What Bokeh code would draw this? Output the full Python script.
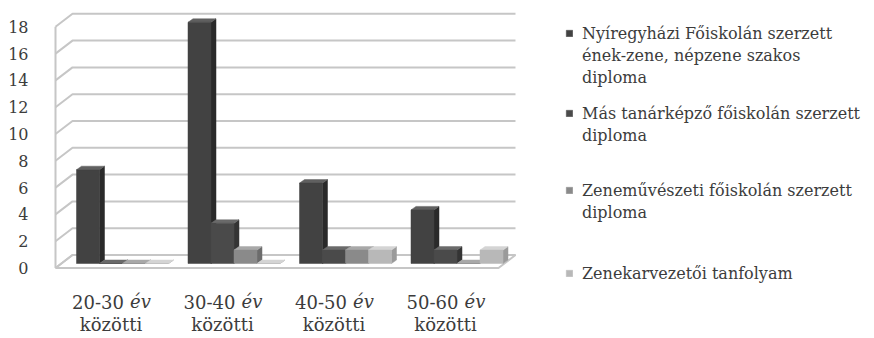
from bokeh.plotting import figure
from bokeh.models import Range1d, FixedTicker, Legend, LegendItem, ColumnDataSource
from bokeh.embed import file_html
from bokeh.resources import INLINE
from bokeh.core.properties import value

# ---------------- data ----------------
age_ranges = ["20-30", "30-40", "40-50", "50-60"]
age_word = "év"
age_suffix = "közötti"
series_labels = [
    ["Nyíregyházi Főiskolán szerzett", "ének-zene, népzene szakos", "diploma"],
    ["Más tanárképző főiskolán szerzett", "diploma"],
    ["Zeneművészeti főiskolán szerzett", "diploma"],
    ["Zenekarvezetői tanfolyam"],
]
nyiregyhaza = [7, 18, 6, 4]
mas_tanarkepzo = [0, 3, 1, 1]
zenemuveszeti = [0, 1, 1, 0]
zenekarvezetoi = [0, 0, 1, 1]
y_ticks = [0, 2, 4, 6, 8, 10, 12, 14, 16, 18]

series_values = [nyiregyhaza, mas_tanarkepzo, zenemuveszeti, zenekarvezetoi]
front_colors = ["#424242", "#4a4a4a", "#8a8a8a", "#b8b8b8"]
side_colors = ["#2a2a2a", "#343434", "#6c6c6c", "#9a9a9a"]
top_colors = ["#606060", "#6a6a6a", "#a8a8a8", "#d4d4d4"]

# ---------------- geometry (styling) ----------------
W, H = 874, 338
LEFT = 50
PXU_X = 111.5   # px per category step
X0 = 122.0      # px of first category centre
PXU_Y = 13.4    # px per unit
Y0 = 267.5      # px of value 0 on the front plane

def ux(px):
    return (px - X0) / PXU_X

FL, FR = ux(55), ux(498)
WDX, WDY = 17 / PXU_X, 13 / PXU_Y
BW = 23 / PXU_X
BOFF = 4.5 / PXU_Y
BDX, BDY = 5 / PXU_X, 3.5 / PXU_Y

FONT = "DejaVu Serif"
TXT = "#3c3c3c"
GRID = "#c6c6c6"

p = figure(width=W, height=H, output_backend="svg", toolbar_location=None,
           x_range=Range1d(ux(LEFT), ux(W)),
           y_range=Range1d(-(H - Y0) / PXU_Y, Y0 / PXU_Y),
           x_axis_location=None, y_axis_location="left",
           min_border_left=LEFT, min_border_right=0, min_border_top=0, min_border_bottom=0)
p.xgrid.visible = False
p.ygrid.visible = False
p.outline_line_color = None
p.background_fill_color = "white"
p.border_fill_color = "white"

ax = p.yaxis[0]
ax.ticker = FixedTicker(ticks=y_ticks)
ax.axis_line_color = None
ax.major_tick_line_color = None
ax.minor_tick_line_color = None
ax.major_label_standoff = 16
ax.major_label_text_font = FONT
ax.major_label_text_font_size = "16px"
ax.major_label_text_color = TXT

# floor
p.patch([FL, FR, FR + WDX, FL + WDX], [0, 0, WDY, WDY],
        fill_color="white", line_color=GRID, line_width=2)

# back-wall gridlines with the left-wall diagonal
p.multi_line([[FL, FL + WDX, FR + WDX] for v in y_ticks],
             [[v, v + WDY, v + WDY] for v in y_ticks],
             line_color=GRID, line_width=2)
# left wall front edge
p.line([FL, FL], [0, y_ticks[-1]], line_color=GRID, line_width=2)

# bars
front_renderers = []
for j, vals in enumerate(series_values):
    xl = [i + (j - 2) * BW for i in range(len(vals))]
    xr = [x + BW for x in xl]
    b = BOFF
    tops = [v + BOFF for v in vals]
    side = ColumnDataSource(dict(
        xs=[[r, r + BDX, r + BDX, r] for r in xr],
        ys=[[b, b + BDY, t + BDY, t] for t in tops]))
    top = ColumnDataSource(dict(
        xs=[[l, r, r + BDX, l + BDX] for l, r in zip(xl, xr)],
        ys=[[t, t, t + BDY, t + BDY] for t in tops]))
    front = ColumnDataSource(dict(
        xs=[[l, r, r, l] for l, r in zip(xl, xr)],
        ys=[[b, b, t, t] for t in tops]))
    p.patches("xs", "ys", source=side, fill_color=side_colors[j], line_color=side_colors[j], line_width=0.5)
    p.patches("xs", "ys", source=top, fill_color=top_colors[j], line_color=top_colors[j], line_width=0.5)
    fr = p.patches("xs", "ys", source=front, fill_color=front_colors[j], line_color=front_colors[j], line_width=0.5)
    front_renderers.append(fr)

# invisible renderer used for the continuation lines of wrapped legend labels
blank = p.patches("xs", "ys", source=ColumnDataSource(dict(xs=[], ys=[])),
                  fill_alpha=0, line_alpha=0)

# category labels
LBL_DX = -11.5 / PXU_X
cx = [i + LBL_DX for i in range(len(age_ranges))]
y1 = (Y0 - 301) / PXU_Y
y2 = (Y0 - 324) / PXU_Y
p.text(x=[c + 13 / PXU_X for c in cx], y=[y1] * 4, text=age_ranges,
       text_font=value(FONT), text_font_size="18px", text_color=TXT,
       text_align="right", text_baseline="middle")
p.text(x=[c + 19 / PXU_X for c in cx], y=[y1] * 4, text=[age_word] * 4,
       text_font=value(FONT), text_font_size="18px", text_font_style="italic",
       text_color=TXT, text_align="left", text_baseline="middle")
p.text(x=cx, y=[y2] * 4, text=[age_suffix] * 4,
       text_font=value(FONT), text_font_size="18px", text_color=TXT,
       text_align="center", text_baseline="middle")

# legends (one block per entry, wrapped like the original)
first_line_centres = [33, 113, 190, 273]
LINE_H = 22
for j, lines in enumerate(series_labels):
    items = [LegendItem(label=lines[0], renderers=[front_renderers[j]])]
    items += [LegendItem(label=t, renderers=[blank]) for t in lines[1:]]
    top_px = first_line_centres[j] - LINE_H / 2
    bottom_px = top_px + len(lines) * LINE_H
    lg = Legend(items=items,
                location=(565 - LEFT, H - bottom_px),
                border_line_color=None, background_fill_alpha=0,
                padding=0, margin=0, spacing=0,
                glyph_width=8, glyph_height=8, label_standoff=9,
                label_text_font=FONT, label_text_font_size="16px",
                label_text_color=TXT, label_height=LINE_H)
    p.add_layout(lg)

open("out.html", "w").write(file_html(p, INLINE))
